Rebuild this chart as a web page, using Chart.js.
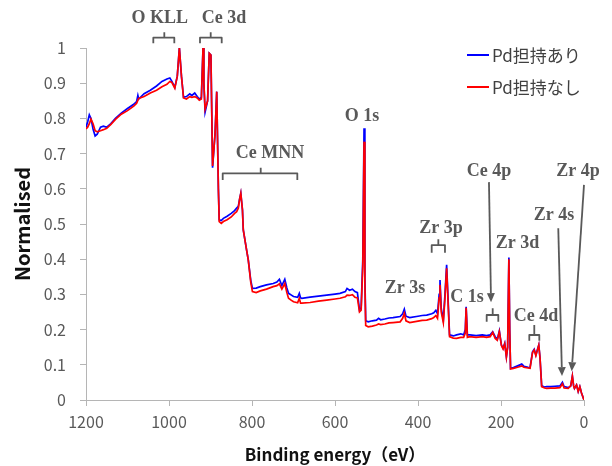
<!DOCTYPE html>
<html><head><meta charset="utf-8">
<script src="https://cdn.jsdelivr.net/npm/chart.js@4"></script>
<style>html,body{margin:0;padding:0;background:#fff;}</style>
</head><body>
<canvas id="c" width="612" height="466"></canvas>
<script>
// Binding energy (eV)
const energies = [1200,1196,1192,1188,1183,1178,1173,1165,1158,1150,1140,1129,1115,1100,1085,1078,1075,1073,1060,1045,1030,1017,1005,998,993,986,980,975,970,965,958,950,945,938,932,927,922,918,916,913,907,903,899,895,889,885,881,879,874,869,860,850,842,837,833,830,827,823,821,813,809,803,799,790,780,765,749,740,734,728,721,716,712,705,700,690,686,683,680,660,640,620,600,588,575,571,565,558,552,546,541,537,533,530,528,526,520,510,500,495,490,480,470,460,443,437,433,429,420,400,390,379,367,362,357,353,349,347,344,339,335,331,328,324,315,307,297,290,286,284,281,275,260,245,235,226,220,214,209,204,199,195,191,187,184,181,179,177,170,160,150,145,135,130,124,120,116,109,106,102,95,90,80,70,58,52,48,38,32,28,25,23,18,14,10,6,3,0];
// Pd担持あり (blue)
const pdWith = [0.775,0.79,0.81,0.80,0.77,0.750,0.755,0.775,0.778,0.775,0.785,0.800,0.815,0.828,0.840,0.848,0.865,0.855,0.870,0.880,0.892,0.905,0.912,0.915,0.905,0.888,0.92,1.0,0.92,0.860,0.862,0.870,0.865,0.872,0.862,0.855,0.86,1.0,0.90,0.818,0.85,0.985,0.98,0.66,0.758,0.876,0.60,0.512,0.510,0.516,0.522,0.530,0.538,0.545,0.550,0.570,0.587,0.54,0.483,0.426,0.398,0.340,0.317,0.318,0.322,0.327,0.331,0.335,0.343,0.325,0.343,0.318,0.303,0.298,0.294,0.292,0.303,0.290,0.289,0.292,0.295,0.298,0.301,0.303,0.308,0.317,0.312,0.315,0.308,0.305,0.256,0.262,0.40,0.772,0.35,0.225,0.222,0.225,0.227,0.232,0.228,0.230,0.233,0.234,0.237,0.245,0.258,0.238,0.234,0.238,0.240,0.241,0.245,0.248,0.255,0.245,0.300,0.341,0.26,0.227,0.30,0.384,0.30,0.185,0.182,0.185,0.188,0.185,0.20,0.265,0.185,0.185,0.183,0.185,0.183,0.185,0.194,0.18,0.172,0.196,0.156,0.147,0.161,0.123,0.15,0.405,0.20,0.09,0.092,0.097,0.102,0.096,0.093,0.092,0.137,0.144,0.128,0.156,0.12,0.040,0.037,0.038,0.038,0.039,0.040,0.050,0.038,0.035,0.04,0.068,0.04,0.033,0.043,0.024,0.038,0.02,0.01,0.0];
// Pd担持なし (red)
const pdWithout = [0.770,0.775,0.785,0.798,0.785,0.765,0.762,0.765,0.768,0.772,0.783,0.797,0.812,0.822,0.835,0.843,0.852,0.857,0.862,0.872,0.880,0.890,0.897,0.905,0.902,0.886,0.92,1.0,0.92,0.858,0.855,0.862,0.860,0.862,0.858,0.852,0.855,1.0,0.90,0.826,0.85,0.985,0.98,0.665,0.755,0.876,0.60,0.507,0.502,0.507,0.512,0.520,0.530,0.535,0.545,0.570,0.587,0.54,0.483,0.426,0.398,0.335,0.308,0.305,0.310,0.315,0.322,0.325,0.330,0.315,0.331,0.305,0.289,0.283,0.279,0.276,0.289,0.275,0.275,0.277,0.281,0.284,0.287,0.289,0.293,0.298,0.297,0.299,0.292,0.290,0.250,0.255,0.38,0.734,0.33,0.212,0.208,0.210,0.213,0.216,0.214,0.216,0.219,0.220,0.222,0.232,0.246,0.225,0.220,0.224,0.226,0.227,0.231,0.234,0.240,0.232,0.290,0.327,0.25,0.220,0.29,0.374,0.29,0.180,0.176,0.175,0.178,0.178,0.19,0.262,0.178,0.180,0.178,0.180,0.178,0.180,0.192,0.175,0.170,0.194,0.155,0.145,0.160,0.122,0.15,0.400,0.20,0.088,0.090,0.093,0.097,0.093,0.091,0.090,0.135,0.142,0.126,0.156,0.12,0.038,0.034,0.033,0.034,0.034,0.035,0.046,0.034,0.033,0.04,0.068,0.04,0.033,0.043,0.024,0.038,0.02,0.01,0.0];

const seriesNames = ['Pd担持あり', 'Pd担持なし'];
const seriesColors = ['#0000ff', '#ff0000'];
const seriesDrawOrder = [1, 0]; // red drawn over blue
const xTickValues = [0, 200, 400, 600, 800, 1000, 1200];
const xTickLabels = ['0', '200', '400', '600', '800', '1000', '1200'];
const yTickLabels = ['0', '0.1', '0.2', '0.3', '0.4', '0.5', '0.6', '0.7', '0.8', '0.9', '1'];

// Peak annotations (in data coordinates: eV, normalised value)
const peakNames = ['O KLL', 'Ce 3d', 'Ce MNN', 'O 1s', 'Ce 4p', 'Zr 4p', 'Zr 4s', 'Zr 3p', 'Zr 3d', 'Zr 3s', 'C 1s', 'Ce 4d'];
const peakLabelE = [1022, 867.5, 756.6, 535, 229, 14.5, 72.3, 344.6, 160.2, 431.3, 282, 115.7];
const peakLabelV = [1.084, 1.084, 0.702, 0.807, 0.651, 0.651, 0.526, 0.489, 0.446, 0.318, 0.293, 0.239];
// Brackets
const bracketE1 = [1037.8, 925.3, 870.6, 367, 234.5, 131.8];
const bracketE2 = [987.2, 873, 690.8, 335, 206.5, 107.7];
const bracketEc = [1011.3, 899.5, 779, 351, 220, 119.8];
const bracketLineV = [1.0293, 1.0293, 0.644, 0.440, 0.2415, 0.1847];
const bracketEndV = [1.0134, 1.0134, 0.625, 0.418, 0.2224, 0.1685];
const bracketTopV = [1.0446, 1.0446, 0.660, 0.4565, 0.2605, 0.213];
// Arrows: from (E,v) to (E,v)
const arrowFromE = [229, 62, 0];
const arrowFromV = [0.619, 0.488, 0.611];
const arrowToE = [224, 53, 29.6];
const arrowToV = [0.278, 0.068, 0.082];

const annColor = '#595959';

const annotationPlugin = {
  id: 'ann',
  afterDatasetsDraw(chart) {
    const ctx = chart.ctx;
    const xs = chart.scales.x, ys = chart.scales.y;
    const px = e => xs.getPixelForValue(e);
    const py = v => ys.getPixelForValue(v);
    ctx.save();
    ctx.fillStyle = annColor;
    ctx.strokeStyle = annColor;
    ctx.font = 'bold 18px "Liberation Serif", "Times New Roman", serif';
    ctx.textAlign = 'center';
    ctx.textBaseline = 'middle';
    peakNames.forEach((n, i) => ctx.fillText(n, px(peakLabelE[i]), py(peakLabelV[i])));
    ctx.lineWidth = 1.8;
    ctx.lineJoin = 'round';
    for (let i = 0; i < bracketE1.length; i++) {
      const x1 = px(bracketE1[i]), x2 = px(bracketE2[i]), xc = px(bracketEc[i]);
      const yl = py(bracketLineV[i]), ye = py(bracketEndV[i]), yt = py(bracketTopV[i]);
      ctx.beginPath();
      ctx.moveTo(x1, ye); ctx.lineTo(x1, yl); ctx.lineTo(x2, yl); ctx.lineTo(x2, ye);
      ctx.moveTo(xc, yl); ctx.lineTo(xc, yt);
      ctx.stroke();
    }
    for (let i = 0; i < arrowFromE.length; i++) {
      const x1 = px(arrowFromE[i]), y1 = py(arrowFromV[i]);
      const x2 = px(arrowToE[i]), y2 = py(arrowToV[i]);
      const ang = Math.atan2(y2 - y1, x2 - x1);
      const len = 9, w = 4;
      const bx = x2 - len * Math.cos(ang), by = y2 - len * Math.sin(ang);
      ctx.beginPath(); ctx.moveTo(x1, y1); ctx.lineTo(bx, by); ctx.stroke();
      ctx.beginPath();
      ctx.moveTo(x2, y2);
      ctx.lineTo(bx + w * Math.sin(ang), by - w * Math.cos(ang));
      ctx.lineTo(bx - w * Math.sin(ang), by + w * Math.cos(ang));
      ctx.closePath(); ctx.fill();
    }
    // legend
    ctx.font = '17px "Noto Sans CJK JP", sans-serif';
    ctx.textAlign = 'left';
    ctx.fillStyle = '#404040';
    const legY = [55, 87];
    seriesNames.forEach((n, i) => {
      ctx.strokeStyle = seriesColors[i];
      ctx.lineWidth = 2;
      ctx.beginPath(); ctx.moveTo(467, legY[i]); ctx.lineTo(489, legY[i]); ctx.stroke();
      ctx.fillText(n, 492, legY[i] + 1);
    });
    ctx.restore();
  }
};

const tickFont = { family: '"Noto Sans CJK JP", sans-serif', size: 16 };
new Chart(document.getElementById('c'), {
  type: 'line',
  data: {
    datasets: seriesNames.map((n, k) => ({
      label: n,
      order: seriesDrawOrder[k],
      data: energies.map((e, i) => ({ x: e, y: (k === 0 ? pdWith : pdWithout)[i] })),
      borderColor: seriesColors[k],
      borderWidth: 1.7,
      pointRadius: 0,
      tension: 0,
      fill: false
    }))
  },
  options: {
    responsive: false,
    animation: false,
    devicePixelRatio: 1,
    layout: { padding: { top: 48, right: 28, left: 0, bottom: 0 } },
    plugins: { legend: { display: false }, tooltip: { enabled: false } },
    scales: {
      x: {
        type: 'linear', reverse: true, min: 0, max: 1200,
        afterFit: s => { s.height = 66; },
        afterBuildTicks: s => { s.ticks = xTickValues.map(v => ({ value: v })); },
        ticks: { font: tickFont, color: '#595959', padding: 6, maxRotation: 0,
          callback: v => xTickLabels[xTickValues.indexOf(v)] },
        grid: { display: true, drawOnChartArea: false, tickLength: 6, color: '#b5b5b5' },
        border: { color: '#b5b5b5', width: 1 },
        title: { display: true, text: 'Binding energy（eV）', color: '#111',
          font: { family: '"Noto Sans CJK JP", sans-serif', size: 17, weight: 'bold' },
          padding: { top: 0, bottom: 1 } }
      },
      y: {
        min: 0, max: 1,
        afterFit: s => { s.width = 86; },
        ticks: { stepSize: 0.1, font: tickFont, color: '#595959', padding: 14,
          callback: (v, i) => yTickLabels[i] },
        grid: { display: true, drawOnChartArea: false, tickLength: 6, color: '#b5b5b5' },
        border: { color: '#b5b5b5', width: 1 },
        title: { display: true, text: 'Normalised', color: '#111',
          font: { family: '"Noto Sans CJK JP", sans-serif', size: 20, weight: 'bold' },
          padding: { top: 10, bottom: 0 } }
      }
    }
  },
  plugins: [annotationPlugin]
});
</script>
</body></html>
